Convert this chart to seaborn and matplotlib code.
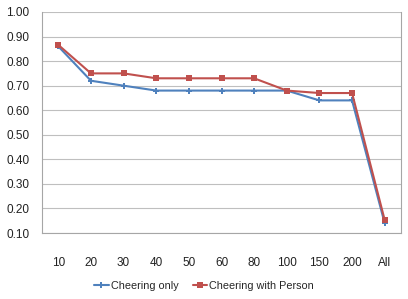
import matplotlib
matplotlib.use("Agg")
import matplotlib.pyplot as plt
import seaborn as sns
import pandas as pd

categories = ["10", "20", "30", "40", "50", "60", "80", "100", "150", "200", "All"]
cheering_only = [0.86, 0.72, 0.70, 0.68, 0.68, 0.68, 0.68, 0.68, 0.64, 0.64, 0.14]
cheering_person = [0.866, 0.75, 0.75, 0.73, 0.73, 0.73, 0.73, 0.68, 0.67, 0.67, 0.153]
yticks = [0.10, 0.20, 0.30, 0.40, 0.50, 0.60, 0.70, 0.80, 0.90, 1.00]

sns.set_style("white")
plt.rcParams['font.family'] = ['Liberation Sans Narrow', 'Liberation Sans', 'DejaVu Sans']

df = pd.DataFrame({
    "cat": categories * 2,
    "val": cheering_only + cheering_person,
    "series": ["Cheering only"] * len(categories) + ["Cheering with Person"] * len(categories),
})

fig = plt.figure(figsize=(4.08, 2.99), dpi=100)
ax = fig.add_axes([42/408, 66/299, 359/408, 221/299])

sns.lineplot(data=df, x="cat", y="val", hue="series", style="series",
             palette={"Cheering only": "#4F81BD", "Cheering with Person": "#C0504D"},
             markers={"Cheering only": "P", "Cheering with Person": "s"},
             dashes=False, markersize=5, markeredgewidth=0, linewidth=1.5,
             sort=False, ax=ax)

ax.set_xlim(-0.5, len(categories) - 0.5)
ax.set_ylim(0.10, 1.00)
ax.set_yticks(yticks)
ax.set_yticklabels([f"{v:.2f}" for v in yticks])
ax.yaxis.grid(True, color="#BFBFBF", linewidth=0.8)
ax.set_axisbelow(True)
for s in ["top"]:
    ax.spines[s].set_visible(False)
for s in ["left", "bottom", "right"]:
    ax.spines[s].set_color("#A6A6A6")
    ax.spines[s].set_linewidth(0.8)
ax.tick_params(axis="x", length=0, pad=17, labelsize=8.5, colors="#222222")
ax.tick_params(axis="y", length=0, pad=9, labelsize=8.5, colors="#222222")
ax.set_xlabel("")
ax.set_ylabel("")

handles, labels = ax.get_legend_handles_labels()
ax.legend(handles, labels, loc="center", bbox_to_anchor=(0.5, 13/299), bbox_transform=fig.transFigure,
          ncol=2, frameon=False, fontsize=7.8, handlelength=1.3, handletextpad=0.2, columnspacing=1.3)

fig.savefig("out.png", dpi=100)
